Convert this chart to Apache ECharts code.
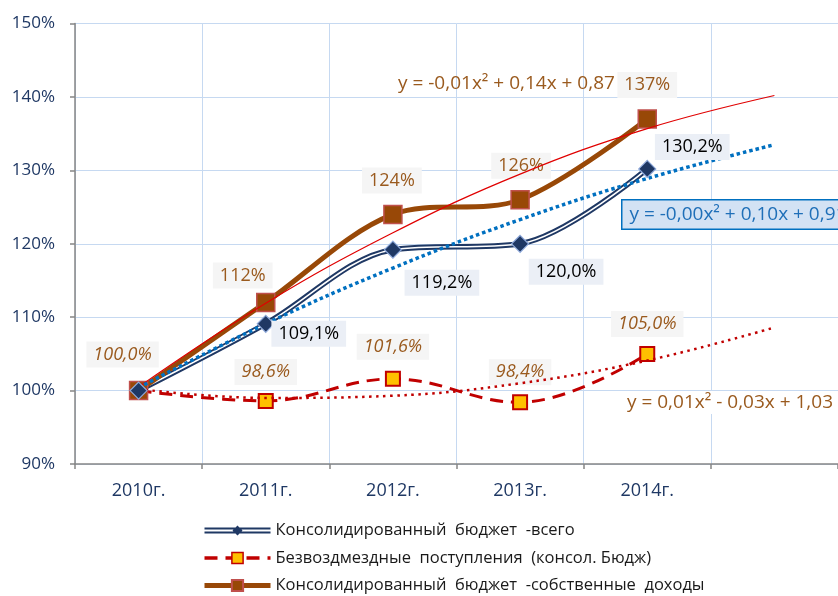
<!DOCTYPE html>
<html>
<head>
<meta charset="utf-8">
<script src="https://cdn.jsdelivr.net/npm/echarts@6/dist/echarts.min.js"></script>
<style>
  html, body { margin: 0; padding: 0; background: #fff; }
  #main { width: 838px; height: 596px; }
</style>
</head>
<body>
<div id="main"></div>
<script>
// данные (в процентах к 2010 г.)
var years = ['2010г.', '2011г.', '2012г.', '2013г.', '2014г.', '']
var seriesNames = [
  'Консолидированный  бюджет  -всего',
  'Безвоздмездные  поступления  (консол. Бюдж)',
  'Консолидированный  бюджет  -собственные  доходы'
]
var totalBudget = [100.0, 109.1, 119.2, 120.0, 130.2]
var transfers = [100.0, 98.6, 101.6, 98.4, 105.0]
var ownRevenue = [100, 112, 124, 126, 137]
// полиномиальные линии тренда (с прогнозом на 1 период)
var totalTrend = [100.4, 109.1, 116.7, 123.3, 128.9, 133.5]
var transfersTrend = [100.2, 99.0, 99.3, 101.0, 104.1, 108.6]
var ownTrend = [100.5, 111.9, 121.5, 129.5, 135.7, 140.2]
var trendEquations = [
  'y = -0,00x² + 0,10x + 0,91',
  'y = 0,01x² - 0,03x + 1,03',
  'y = -0,01x² + 0,14x + 0,87'
]

var FONT = 'Open Sans'
var BROWN_TXT = '#9A5A1E'
var EQ_FONT = '19px "Open Sans"'

function pct1 (v) { return v.toFixed(1).replace('.', ',') + '%' }
function pct0 (v) { return Math.round(v) + '%' }

// подписи: смещение центра подписи от точки
function labeled (values, offsets, fmt, style) {
  return values.map(function (v, i) {
    var off = offsets[i]
    if (!off) return { value: v, label: { show: false } }
    return {
      value: v,
      label: Object.assign({
        show: true,
        position: 'inside',
        offset: off,
        formatter: function () { return fmt(v) }
      }, style)
    }
  })
}

var chartDom = document.getElementById('main')
var myChart = echarts.init(chartDom)

var totalStyle = {
  color: '#000', fontFamily: FONT, fontSize: 18,
  backgroundColor: '#EBEFF6', padding: [4, 7]
}
var transfersStyle = {
  color: BROWN_TXT, fontFamily: FONT, fontSize: 18, fontStyle: 'italic',
  backgroundColor: '#F5F5F5', padding: [4, 7]
}
var ownStyle = {
  color: BROWN_TXT, fontFamily: FONT, fontSize: 18,
  backgroundColor: '#F5F5F5', padding: [4, 7]
}

var option = {
  animation: false,
  grid: { left: 75, top: 23.6, width: 772, height: 440.4 },
  legend: {
    orient: 'vertical',
    left: 197,
    top: 517,
    height: 120,
    itemWidth: 66,
    itemHeight: 14,
    itemGap: 10.5,
    textStyle: { fontFamily: FONT, fontSize: 16.5, color: '#1a1a1a' },
    data: [
      {
        name: seriesNames[0],
        icon: 'path://M0,0H0.01V0.01Z M0,4H66V6H0Z M0,8H66V10H0Z M28,7L33,2L38,7L33,12Z M66,14H65.99V13.99Z',
        itemStyle: { color: '#1F3864', borderWidth: 0, opacity: 1 }
      },
      { name: seriesNames[1], itemStyle: { borderWidth: 1.5 }, lineStyle: { width: 3.5 } },
      { name: seriesNames[2], lineStyle: { width: 5 } }
    ]
  },
  xAxis: {
    type: 'category',
    data: years,
    boundaryGap: true,
    axisLine: { lineStyle: { color: '#868686', width: 1.5 } },
    axisTick: { show: true, length: 5, interval: 0, lineStyle: { color: '#868686', width: 1.5 } },
    axisLabel: { margin: 18, fontFamily: FONT, fontSize: 18, color: '#1F3864', interval: 0 },
    splitLine: { show: true, interval: 0, lineStyle: { color: '#C6D9F1', width: 1 } }
  },
  yAxis: {
    type: 'value',
    min: 90,
    max: 150,
    interval: 10,
    axisLine: { show: true, lineStyle: { color: '#868686', width: 1.5 } },
    axisTick: { show: true, length: 5, lineStyle: { color: '#868686', width: 1.5 } },
    axisLabel: { margin: 20, fontFamily: FONT, fontSize: 17, color: '#1F3864', formatter: '{value}%' },
    splitLine: { lineStyle: { color: '#C6D9F1', width: 1 } }
  },
  graphic: [
    {
      type: 'text', left: 398, top: 74, z: 100,
      style: { text: trendEquations[2], fill: BROWN_TXT, font: EQ_FONT }
    },
    {
      type: 'text', left: 621, top: 199, z: 100,
      style: {
        text: trendEquations[0], fill: '#1F6FB8', font: EQ_FONT,
        backgroundColor: '#D3E2F4', borderColor: '#0070C0', borderWidth: 1.5,
        padding: [5, 6, 4, 7]
      }
    },
    {
      type: 'text', left: 621, top: 391, z: 100,
      style: {
        text: trendEquations[1], fill: BROWN_TXT, font: EQ_FONT,
        backgroundColor: '#fff', padding: [2, 6]
      }
    }
  ],
  series: [
    // двойная линия "всего": тёмная основа и белая середина
    {
      name: 'navyBase', type: 'line', data: totalBudget, smooth: 0.33,
      symbol: 'none', silent: true, z: 2,
      lineStyle: { color: '#1F3864', width: 5.5 }
    },
    {
      name: 'navyInner', type: 'line', data: totalBudget, smooth: 0.33,
      symbol: 'none', silent: true, z: 2,
      lineStyle: { color: '#fff', width: 1.6 }
    },
    {
      name: seriesNames[1], type: 'line', smooth: 0.4, z: 3,
      data: labeled(transfers, [[-16, -36], [0, -29], [0, -32], [0, -30], [0, -30]], pct1, transfersStyle),
      lineStyle: { color: '#C00000', width: 3, type: [13, 8] },
      symbol: 'rect', symbolSize: 14,
      itemStyle: { color: '#FFC000', borderColor: '#C00000', borderWidth: 2 }
    },
    {
      name: seriesNames[2], type: 'line', smooth: 0.33, z: 3,
      data: labeled(ownRevenue, [null, [-23, -27], [-1, -34], [1, -34], [0, -34]], pct0, ownStyle),
      lineStyle: { color: '#984807', width: 5 },
      symbol: 'rect', symbolSize: 18,
      itemStyle: { color: '#984807', borderColor: '#C0504D', borderWidth: 1.5 }
    },
    // линии тренда
    {
      name: 'ownTrend', type: 'line', data: ownTrend, smooth: 0.4,
      symbol: 'none', silent: true, z: 4,
      lineStyle: { color: '#E00000', width: 1.2 }
    },
    {
      name: 'totalTrend', type: 'line', data: totalTrend, smooth: 0.4,
      symbol: 'none', silent: true, z: 4,
      lineStyle: { color: '#0070C0', width: 3.5, type: [3.5, 3] }
    },
    {
      name: 'transfersTrend', type: 'line', data: transfersTrend, smooth: 0.4,
      symbol: 'none', silent: true, z: 4,
      lineStyle: { color: '#C00000', width: 2.5, type: [2.5, 4.5] }
    },
    // маркеры и подписи "всего"
    {
      name: seriesNames[0], type: 'line', smooth: 0.33, z: 5,
      data: labeled(totalBudget, [null, [43, 10], [49, 33], [46, 28], [45, -22]], pct1, totalStyle),
      lineStyle: { width: 0, opacity: 0 },
      symbol: 'diamond', symbolSize: 17,
      itemStyle: { color: '#1F3864', borderColor: '#8EA9DB', borderWidth: 1.2 }
    }
  ]
}

myChart.setOption(option)
</script>
</body>
</html>
